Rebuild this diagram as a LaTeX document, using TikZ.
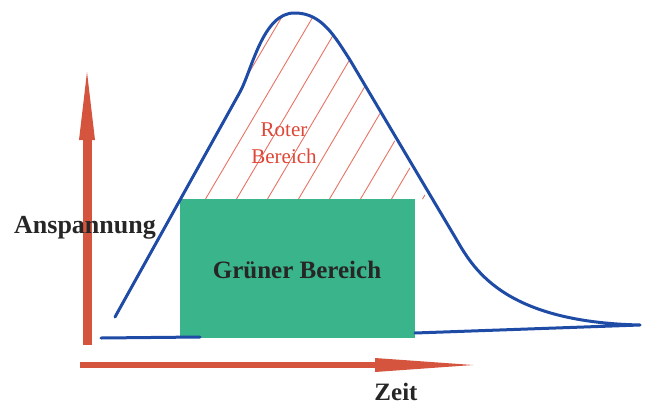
\documentclass[tikz,border=0pt]{standalone}
\usepackage{fontspec}
\setmainfont{Liberation Serif}
\definecolor{curveblue}{RGB}{30,75,165}
\definecolor{axisred}{RGB}{212,84,62}
\definecolor{hatchred}{RGB}{232,115,100}
\definecolor{textred}{RGB}{222,70,55}
\definecolor{boxgreen}{RGB}{58,180,138}
\tikzset{
  curve/.style={draw=curveblue, line width=3pt, line join=round, line cap=round},
  hatch/.style={draw=hatchred, line width=0.9pt},
  boldlabel/.style={font=\fontsize{25}{28}\selectfont\bfseries, text=black!85, inner sep=0pt},
}
\begin{document}
\begin{tikzpicture}[x=1pt,y=-1pt]
\useasboundingbox (0,0) rectangle (645,407);
% hatching in the red region
\begin{scope}
  \clip (180,200) -- (240,92) .. controls (252,70) and (263,12) .. (295,13)
        .. controls (322,13) and (335,37) .. (350,60) -- (427,199) -- cycle;
  \foreach \xx in {140,171,...,480} {
    \draw[hatch] (\xx,205) -- ++(125,-212);
  }
\end{scope}
% green box
\node[fill=boxgreen, draw=none, minimum width=235pt, minimum height=139pt, inner sep=0pt, anchor=north west] (box) at (180,199) {};
\node[boldlabel] (gb) at (297,270) {Grüner Bereich};
% blue curve
\coordinate (start) at (115,317);
\coordinate (tip) at (640,325);
\coordinate (bend) at (415,333);
\draw[curve] (start) -- (240,92) .. controls (252,70) and (263,12) .. (295,13)
   .. controls (322,13) and (335,37) .. (350,60) -- (455,237)
   .. controls (472,266) and (500,322) .. (tip) -- (bend);
\coordinate (bl) at (101,338);
\coordinate (br) at (200,337);
\draw[curve] (bl) -- (br);
% axes
\fill[axisred] (83,345) rectangle (92,138);
\fill[axisred] (79,140) -- (87,72) -- (95,140) -- cycle;
\fill[axisred] (80,362) rectangle (377,368);
\fill[axisred] (375,358) -- (473,365) -- (375,372) -- cycle;
% labels
\node[boldlabel, font=\fontsize{26}{28}\selectfont\bfseries, anchor=west] (ansp) at (14,228) {Anspannung};
\node[boldlabel, anchor=base] (zeit) at (396,400) {Zeit};
\node[font=\fontsize{21}{27}\selectfont, text=textred, align=center, inner sep=0pt] (rot) at (284,143) {Roter\\Bereich};
\end{tikzpicture}
\end{document}
